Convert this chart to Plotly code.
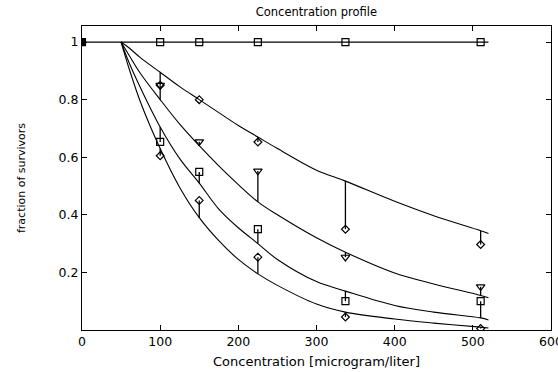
import plotly.graph_objects as go

# Measurement concentrations
conc = [100, 150, 225, 337, 510]
ctrl_x = [0, 100, 150, 225, 337, 510]
ctrl_y = [1, 1, 1, 1, 1, 1]
ctrl_fit_x = [0, 520]
ctrl_fit_y = [1, 1]

# Observed fractions of survivors
obs1 = [0.85, 0.80, 0.653, 0.35, 0.297]   # diamonds (upper)
obs2 = [0.85, 0.654, 0.552, 0.253, 0.15]  # triangles
obs3 = [0.653, 0.549, 0.35, 0.10, 0.10]   # squares
obs4 = [0.605, 0.45, 0.253, 0.045, 0.005] # diamonds (lower)

# Fitted curves
fit_x = [50, 60, 75, 100, 125, 150, 175, 200, 225, 250, 300, 337, 400, 450, 510, 520]
fit1 = [1, 0.98, 0.945, 0.895, 0.845, 0.80, 0.755, 0.71, 0.67, 0.63, 0.555, 0.517, 0.447, 0.397, 0.345, 0.335]
fit2 = [1, 0.955, 0.89, 0.80, 0.715, 0.64, 0.57, 0.505, 0.445, 0.40, 0.32, 0.27, 0.198, 0.16, 0.12, 0.112]
fit3 = [1, 0.93, 0.84, 0.705, 0.595, 0.51, 0.42, 0.355, 0.30, 0.245, 0.168, 0.135, 0.085, 0.062, 0.042, 0.035]
fit4 = [1, 0.91, 0.79, 0.63, 0.495, 0.39, 0.31, 0.245, 0.195, 0.155, 0.09, 0.062, 0.038, 0.024, 0.01, 0.007]

x_ticks = [0, 100, 200, 300, 400, 500, 600]
y_ticks = [0.2, 0.4, 0.6, 0.8, 1]
y_tick_text = ["0.2", "0.4", "0.6", "0.8", "1"]

FONT = "DejaVu Sans, Verdana, sans-serif"

fig = go.Figure()

# control line and markers
fig.add_trace(go.Scatter(x=ctrl_fit_x, y=ctrl_fit_y, mode="lines",
                         line=dict(color="black", width=1.2), hoverinfo="skip"))
fig.add_trace(go.Scatter(x=ctrl_x, y=ctrl_y, mode="markers",
                         marker=dict(symbol=["square"] + ["square-open"] * (len(ctrl_x) - 1),
                                     size=7, color="black", line=dict(width=1.2, color="black"))))

fits = [fit1, fit2, fit3, fit4]
obs = [obs1, obs2, obs3, obs4]
symbols = ["diamond-open", "triangle-down-open", "square-open", "diamond-open"]
sizes = [6, 7.5, 7, 6]

for f in fits:
    fig.add_trace(go.Scatter(x=fit_x, y=f, mode="lines", line_shape="spline",
                             line=dict(color="black", width=1.1), hoverinfo="skip"))

for f, o, s, sz in zip(fits, obs, symbols, sizes):
    lookup = dict(zip(fit_x, f))
    model = [lookup[c] for c in conc]
    plus = [max(m - v, 0) for m, v in zip(model, o)]
    minus = [max(v - m, 0) for m, v in zip(model, o)]
    fig.add_trace(go.Scatter(
        x=conc, y=o, mode="markers",
        marker=dict(symbol=s, size=sz, color="black", line=dict(width=1.2, color="black")),
        error_y=dict(type="data", symmetric=False, array=plus, arrayminus=minus,
                     color="black", thickness=1.3, width=0)))

axis_common = dict(showline=True, linecolor="black", linewidth=1, mirror="ticks",
                   ticks="inside", ticklen=5, tickcolor="black", tickwidth=1,
                   showgrid=False, zeroline=False, ticklabeloverflow="allow",
                   automargin=False,
                   tickfont=dict(family=FONT, size=12.5, color="black"))

fig.update_layout(
    width=558, height=372,
    margin=dict(l=82, r=7, t=26, b=42),
    paper_bgcolor="white", plot_bgcolor="white",
    showlegend=False,
    font=dict(family=FONT, color="black"),
    title=dict(text="Concentration profile", x=0.567, xanchor="center", y=0.967, yanchor="middle",
               font=dict(family=FONT, size=11.5, color="black")),
    xaxis=dict(range=[0, 600], tickvals=x_ticks, ticktext=[str(v) for v in x_ticks],
               title=dict(text="Concentration [microgram/liter]", standoff=8,
                          font=dict(family=FONT, size=13, color="black")),
               **axis_common),
    yaxis=dict(range=[0, 1.0557], tickvals=y_ticks, ticktext=y_tick_text,
               title=dict(text="fraction of survivors", standoff=30,
                          font=dict(family=FONT, size=11, color="black")),
               **axis_common),
)

fig.write_html("out.html")
